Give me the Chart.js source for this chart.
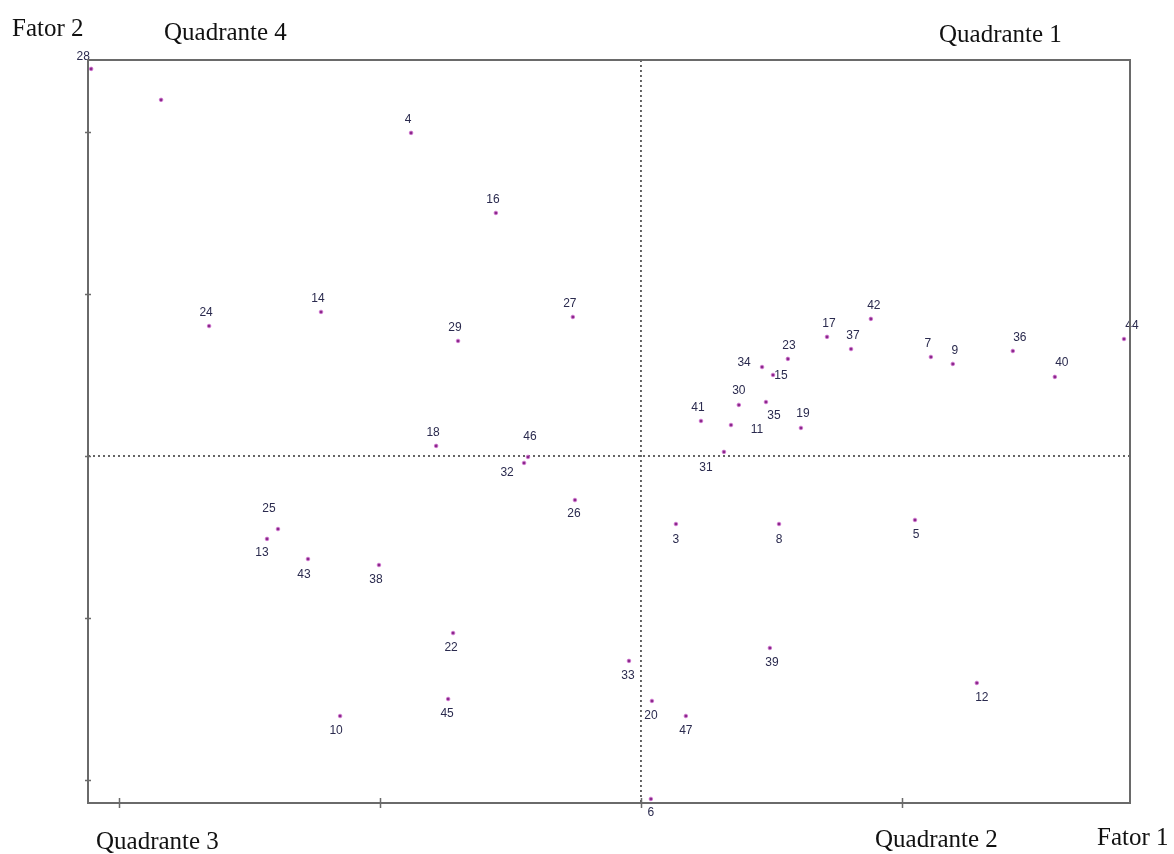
<!DOCTYPE html>
<html>
<head>
<meta charset="utf-8">
<title>Fator 1 x Fator 2</title>
<script src="https://cdn.jsdelivr.net/npm/chart.js@4.4.1/dist/chart.umd.min.js"></script>
<style>
  html, body { margin: 0; padding: 0; background: #fff; }
  #wrap { width: 1174px; height: 854px; }
</style>
</head>
<body>
<div id="wrap"><canvas id="grafico" width="1174" height="854"></canvas></div>
<script>
// dados
const rotulos = ['28', '', '4', '16', '14', '24', '27', '29', '42', '17', '37', '23', '34', '15',
  '7', '9', '36', '40', '44', '30', '41', '35', '11', '19', '31', '18', '46', '32', '26', '25',
  '13', '43', '38', '3', '8', '5', '22', '33', '39', '12', '20', '47', '45', '10', '6'];
const fator1 = [-2.107, -1.839, -0.881, -0.556, -1.226, -1.655, -0.261, -0.701, 0.881, 0.713,
  0.805, 0.563, 0.464, 0.506, 1.111, 1.195, 1.425, 1.586, 1.851, 0.375, 0.230, 0.479, 0.345,
  0.613, 0.318, -0.785, -0.433, -0.448, -0.253, -1.391, -1.433, -1.276, -1.004, 0.134, 0.529,
  1.050, -0.720, -0.046, 0.494, 1.287, 0.042, 0.172, -0.739, -1.153, 0.038];
const fator2 = [2.389, 2.198, 1.994, 1.500, 0.889, 0.802, 0.858, 0.710, 0.846, 0.735,
  0.660, 0.599, 0.549, 0.500, 0.611, 0.568, 0.648, 0.488, 0.722, 0.315, 0.216, 0.333, 0.191,
  0.173, 0.025, 0.062, -0.006, -0.043, -0.272, -0.451, -0.512, -0.636, -0.673, -0.420, -0.420,
  -0.395, -1.093, -1.265, -1.185, -1.401, -1.512, -1.605, -1.500, -1.605, -2.117];
const ticksX = [-2, -1, 0, 1];
const ticksY = [-2, -1, 0, 1, 2];

// deslocamento dos rotulos em relacao ao ponto (px)
const posRotulo = {
  '28': [-8, -12], '34': [-18, -4], '15': [8, 1], '36': [7, -13], '40': [7, -14], '44': [8, -13],
  '35': [8, 14], '11': [26, 5], '31': [-18, 16], '46': [2, -20], '32': [-17, 10], '26': [-1, 14],
  '25': [-9, -20], '13': [-5, 14], '43': [-4, 16], '38': [-3, 15], '3': [0, 16], '8': [0, 16],
  '5': [1, 15], '22': [-2, 15], '33': [-1, 15], '39': [2, 15], '12': [5, 15], '20': [-1, 15],
  '47': [0, 15], '45': [-1, 15], '10': [-4, 15], '6': [0, 14], '42': [3, -13], '17': [2, -13],
  '37': [2, -13], '23': [1, -13], '9': [2, -13], '19': [2, -14], '30': [0, -14]
};

const pontos = fator1.map((x, i) => ({ x: x, y: fator2[i] }));

// linhas pontilhadas, moldura, marcas dos eixos e textos
const desenhoExtra = {
  id: 'desenhoExtra',
  beforeDatasetsDraw(chart) {
    const { ctx, chartArea: a, scales } = chart;
    const x0 = scales.x.getPixelForValue(0);
    const y0 = scales.y.getPixelForValue(0);
    ctx.save();
    ctx.strokeStyle = '#333';
    ctx.lineWidth = 1.5;
    ctx.setLineDash([2, 3]);
    ctx.beginPath();
    ctx.moveTo(x0, a.top);
    ctx.lineTo(x0, a.bottom);
    ctx.moveTo(a.left, y0);
    ctx.lineTo(a.right, y0);
    ctx.stroke();
    ctx.restore();
  },
  afterDatasetsDraw(chart) {
    const { ctx, chartArea: a, scales } = chart;
    ctx.save();
    // rotulos dos pontos
    ctx.font = '12px "Liberation Sans", Arial, sans-serif';
    ctx.fillStyle = '#2a2a4e';
    ctx.textAlign = 'center';
    ctx.textBaseline = 'middle';
    const meta = chart.getDatasetMeta(0);
    meta.data.forEach((el, i) => {
      const r = rotulos[i];
      if (!r) return;
      const d = posRotulo[r] || [-3, -13];
      ctx.fillText(r, el.x + d[0], el.y + d[1]);
    });

    // moldura
    ctx.strokeStyle = '#6a6a6a';
    ctx.lineWidth = 2;
    ctx.strokeRect(a.left, a.top, a.right - a.left, a.bottom - a.top);

    // marcas
    ctx.lineWidth = 1.5;
    ctx.beginPath();
    ticksX.forEach(v => {
      const px = Math.round(scales.x.getPixelForValue(v)) + 0.5;
      ctx.moveTo(px, a.bottom - 5);
      ctx.lineTo(px, a.bottom + 5);
    });
    ticksY.forEach(v => {
      const py = Math.round(scales.y.getPixelForValue(v)) + 0.5;
      ctx.moveTo(a.left - 3, py);
      ctx.lineTo(a.left + 3, py);
    });
    ctx.stroke();

    // titulos
    ctx.fillStyle = '#111';
    ctx.textAlign = 'left';
    ctx.textBaseline = 'alphabetic';
    ctx.font = '25px "Liberation Serif", "Times New Roman", serif';
    ctx.fillText('Fator 2', 12, 36);
    ctx.fillText('Quadrante 4', 164, 40);
    ctx.fillText('Quadrante 1', 939, 42);
    ctx.fillText('Quadrante 3', 96, 849);
    ctx.fillText('Quadrante 2', 875, 847);
    ctx.fillText('Fator 1', 1097, 845);
    ctx.restore();
  }
};

new Chart(document.getElementById('grafico'), {
  type: 'scatter',
  data: {
    datasets: [{
      data: pontos,
      pointRadius: 1.8,
      pointHoverRadius: 1.8,
      pointBackgroundColor: '#8a2a8a',
      pointBorderColor: '#d070d0',
      pointBorderWidth: 0.8
    }]
  },
  options: {
    responsive: false,
    animation: false,
    layout: { padding: { left: 88, right: 44, top: 60, bottom: 51 } },
    plugins: { legend: { display: false }, tooltip: { enabled: false } },
    scales: {
      x: { type: 'linear', display: false, min: -2.119, max: 1.874 },
      y: { type: 'linear', display: false, min: -2.142, max: 2.444 }
    }
  },
  plugins: [desenhoExtra]
});
</script>
</body>
</html>
